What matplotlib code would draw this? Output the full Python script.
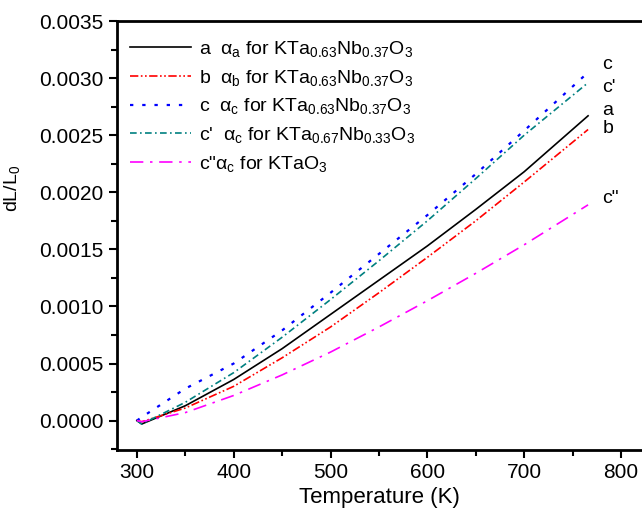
#import libraries
import numpy as np
import matplotlib
matplotlib.use("Agg")
import matplotlib.pyplot as plt
from matplotlib.ticker import MultipleLocator, FormatStrFormatter

plt.rcParams['font.family'] = ['Liberation Sans', 'DejaVu Sans']
plt.rcParams['mathtext.fontset'] = 'custom'
plt.rcParams['mathtext.rm'] = 'Liberation Sans'
plt.rcParams['mathtext.it'] = 'Liberation Sans'

#temperature points (K)
temp = [300, 305, 350, 400, 450, 500, 550, 600, 650, 700, 766]

#dL/L0 for each curve
a_kta63 = [0.0, -0.00003, 0.00013, 0.00036, 0.00063, 0.00093, 0.00123, 0.00153, 0.00185, 0.00218, 0.00267]
b_kta63 = [0.0, -0.00001, 0.00011, 0.00030, 0.00055, 0.00082, 0.00112, 0.00143, 0.00175, 0.00209, 0.00255]
c_kta63 = [0.0, 0.00003, 0.00028, 0.00050, 0.00079, 0.00112, 0.00146, 0.00180, 0.00216, 0.00254, 0.00305]
c_kta67 = [0.0, -0.00003, 0.00016, 0.00042, 0.00073, 0.00106, 0.00140, 0.00175, 0.00212, 0.00250, 0.00296]
c_kto = [0.0, -0.00001, 0.00007, 0.00022, 0.00040, 0.00060, 0.00082, 0.00105, 0.00129, 0.00154, 0.00189]

labels = [r"a  $\alpha_a$ for KTa$_{0.63}$Nb$_{0.37}$O$_3$",
          r"b  $\alpha_b$ for KTa$_{0.63}$Nb$_{0.37}$O$_3$",
          r"c  $\alpha_c$ for KTa$_{0.63}$Nb$_{0.37}$O$_3$",
          r"c'  $\alpha_c$ for KTa$_{0.67}$Nb$_{0.33}$O$_3$",
          r'c"$\alpha_c$ for KTaO$_3$']
end_tags = ['a', 'b', 'c', "c'", 'c"']
tag_y = [0.00272, 0.00256, 0.00312, 0.00292, 0.00195]

fig = plt.figure(figsize=(6.42, 5.14), dpi=100)
ax = fig.add_axes([0.182, 0.124, 0.818, 0.835])

ax.plot(temp, a_kta63, color='black', lw=1.2, ls='-', label=labels[0])
ax.plot(temp, b_kta63, color='red', lw=1.2, ls=(0, (5, 1.5, 1, 1.5, 1, 1.5)), label=labels[1])
ax.plot(temp, c_kta63, color='blue', lw=1.6, ls=(0, (1.5, 4)), label=labels[2])
ax.plot(temp, c_kta67, color='#008080', lw=1.2, ls=(0, (4, 2, 1, 2)), label=labels[3])
ax.plot(temp, c_kto, color='magenta', lw=1.2, ls=(0, (8, 4, 1.5, 4)), label=labels[4])

#tags at the end of each curve
for t, y in zip(end_tags, tag_y):
    ax.text(781, y, t, fontsize=14, va='center', ha='left')

ax.set_xlim(279.3, 821.7)
ax.set_ylim(-0.00026, 0.0035)
ax.xaxis.set_major_locator(MultipleLocator(100))
ax.xaxis.set_minor_locator(MultipleLocator(50))
ax.yaxis.set_major_locator(MultipleLocator(0.0005))
ax.yaxis.set_minor_locator(MultipleLocator(0.00025))
ax.yaxis.set_major_formatter(FormatStrFormatter('%.4f'))

ax.tick_params(which='major', direction='out', length=6, width=1.5, labelsize=15)
ax.tick_params(which='minor', direction='out', length=4, width=1.5)
for s in ['left', 'bottom', 'top']:
    ax.spines[s].set_linewidth(2)
ax.spines['right'].set_visible(False)

ax.set_xlabel('Temperature (K)', fontsize=16, labelpad=3)
ax.set_ylabel(r'dL/L$_0$', fontsize=14)
ax.yaxis.set_label_coords(-0.18, 0.61)

ax.legend(loc='upper left', bbox_to_anchor=(0.0, 0.99), frameon=False,
          fontsize=14, handlelength=3.1, handletextpad=0.4, labelspacing=0.45,
          borderaxespad=0.3)

fig.savefig('out.png', dpi=100)
